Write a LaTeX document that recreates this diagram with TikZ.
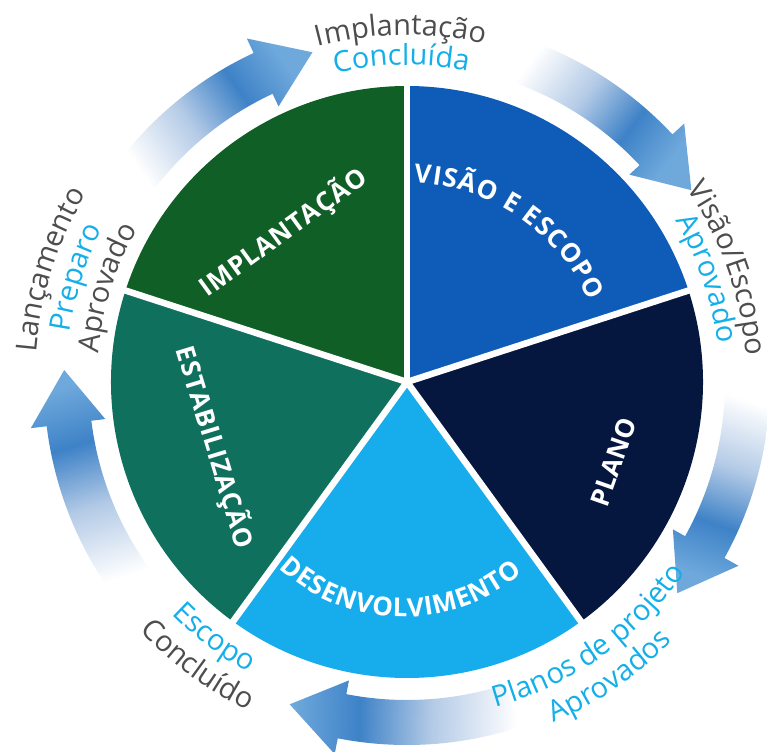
\documentclass[tikz,border=0pt]{standalone}
\usepackage{fontspec}
\usepackage{tikz}
\usetikzlibrary{decorations.text,calc}
\setmainfont{Open Sans}
\newfontfamily\phasefont{Open Sans}
\definecolor{visaoblue}{HTML}{0F5CB8}
\definecolor{planonavy}{HTML}{05173F}
\definecolor{desenvcyan}{HTML}{17ADEC}
\definecolor{estabteal}{HTML}{10705E}
\definecolor{implgreen}{HTML}{0F5F27}
\definecolor{labelgray}{HTML}{4D4D4D}
\definecolor{labelcyan}{HTML}{14AFE8}
\definecolor{fadeblue}{HTML}{B3CAE6}
\definecolor{arrowblue}{HTML}{3E82C7}
\definecolor{headblue}{HTML}{6FA9DC}
\pgfdeclarehorizontalshading{cyclefade}{100bp}{color(0bp)=(white); color(25bp)=(white); color(44bp)=(fadeblue); color(60bp)=(arrowblue); color(75bp)=(headblue); color(100bp)=(headblue)}
\tikzset{
    sector/.style={fill=#1},
    gap/.style={draw=white, line width=6.5pt},
    phaselabel/.style={decorate, decoration={text along path, text align=fit to path, text={|\phasefont\bfseries\fontsize{26}{26}\selectfont\color{white}|#1}}},
    milestone/.style 2 args={decorate, decoration={text along path, text align=center, text={|\fontsize{29}{29}\selectfont\color{#1}|#2}}},
    cyclearrow/.style={shading=cyclefade, shading angle=#1}
}

\begin{document}
\begin{tikzpicture}[x=1pt, y=1pt]
    \useasboundingbox (-407,-369) rectangle (360,382);
    \coordinate (c) at (0,0);

    % Phases
    \fill [sector=visaoblue] (c) -- (90:296) arc[start angle=90, end angle=18, radius=296] -- cycle;
    \fill [sector=planonavy] (c) -- (18:296) arc[start angle=18, end angle=-54, radius=296] -- cycle;
    \fill [sector=desenvcyan] (c) -- (-54:296) arc[start angle=-54, end angle=-126, radius=296] -- cycle;
    \fill [sector=estabteal] (c) -- (-126:296) arc[start angle=-126, end angle=-198, radius=296] -- cycle;
    \fill [sector=implgreen] (c) -- (162:296) arc[start angle=162, end angle=90, radius=296] -- cycle;
    \foreach \a in {90,18,-54,-126,162}
        \draw [gap] (c) -- (\a:300);

    % Phase names
    \path [phaselabel=VISÃO E ESCOPO] (88:199) arc[start angle=88, end angle=24, radius=199];
    \path [phaselabel=PLANO] (200,-126) -- (230,-40);
    \path [phaselabel=DESENVOLVIMENTO, shift={(-4,-53)}] (-133:182) arc[start angle=-133, end angle=-49, radius=182];
    \path [phaselabel=ESTABILIZAÇÃO] (-231,32) -- (-170,-168);
    \path [phaselabel=IMPLANTAÇÃO] (-199,84) -- (-38,201);

    % Cycle arrows
    \foreach \a in {162,90,18,-54,-126} {
        \pgfmathsetmacro\tail{\a-18}
        \pgfmathsetmacro\tip{\a-56}
        \pgfmathsetmacro\base{\a-47}
        \pgfmathsetmacro\shang{\a-127}
        \shade [cyclearrow=\shang] (\tail:363) arc[start angle=\tail, end angle=\base, radius=363]
            -- (\base:379) -- (\tip:343) -- (\base:304) -- (\base:318)
            arc[start angle=\base, end angle=\tail, radius=318] -- cycle;
    }

    % Milestones
    \path [milestone={labelgray}{Implantação}] (131:347) arc[start angle=131, end angle=51, radius=347];
    \path [milestone={labelcyan}{Concluída}] (131:317) arc[start angle=131, end angle=51, radius=317];
    \path [milestone={labelgray}{Visão/Escopo}] (59.5:340) arc[start angle=59.5, end angle=-20.5, radius=340];
    \path [milestone={labelcyan}{Aprovado}] (59:313) arc[start angle=59, end angle=-21, radius=313];
    \path [milestone={labelcyan}{Planos de projeto}] (-94.5:337) arc[start angle=-94.5, end angle=-14.5, radius=337];
    \path [milestone={labelcyan}{Aprovados}] (-95.5:371) arc[start angle=-95.5, end angle=-15.5, radius=371];
    \path [milestone={labelcyan}{Escopo}] (-167:331) arc[start angle=-167, end angle=-87, radius=331];
    \path [milestone={labelgray}{Concluído}] (-166.5:365) arc[start angle=-166.5, end angle=-86.5, radius=365];
    \path [milestone={labelgray}{Lançamento}] (202.5:372) arc[start angle=202.5, end angle=122.5, radius=372];
    \path [milestone={labelcyan}{Preparo}] (202.5:341) arc[start angle=202.5, end angle=122.5, radius=341];
    \path [milestone={labelgray}{Aprovado}] (202.5:310) arc[start angle=202.5, end angle=122.5, radius=310];
\end{tikzpicture}
\end{document}
